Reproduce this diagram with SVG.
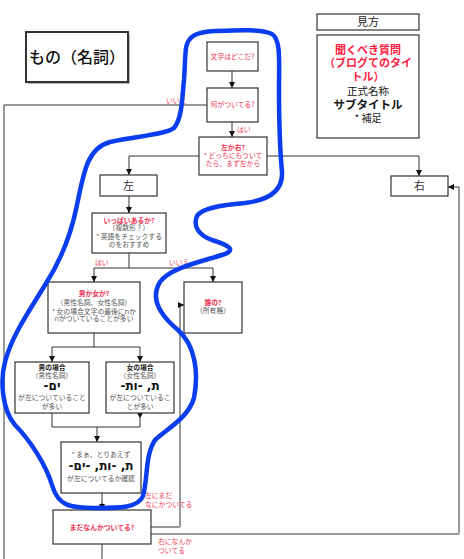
<svg xmlns="http://www.w3.org/2000/svg" width="464" height="559" viewBox="0 0 464 559">
<defs>
<style>
.box{fill:#fff;stroke:#333;stroke-width:1.2}
.shadow{fill:#bbb}
.c{fill:none;stroke:#333;stroke-width:1}
.cg{fill:none;stroke:#999;stroke-width:2}
text{font-family:"Noto Sans CJK JP","Noto Sans",sans-serif}
.t{font-size:6.8px;fill:#555;text-anchor:middle}
.q{font-size:6.8px;fill:#f0304f;text-anchor:middle;font-weight:bold}
.qn{font-size:6.8px;fill:#f0304f;text-anchor:middle}
.lbl{font-size:6.8px;fill:#f0405a}
.he{font-size:12px;font-weight:bold;fill:#111;text-anchor:middle;font-family:"DejaVu Sans","Noto Sans",sans-serif}
.b{font-size:6.8px;fill:#222;text-anchor:middle;font-weight:bold}
</style>
<marker id="ah" viewBox="0 0 10 10" refX="10" refY="5" markerWidth="6" markerHeight="6" orient="auto" markerUnits="userSpaceOnUse">
<path d="M0,0 L10,5 L0,10 z" fill="#111"/>
</marker>
</defs>
<rect width="464" height="559" fill="#fff"/>

<g id="title">
<rect class="shadow" x="28" y="34" width="102" height="50"/>
<rect x="26" y="32" width="102" height="50" fill="#fff" stroke="#333" stroke-width="2"/>
<text x="77" y="63" font-size="16" text-anchor="middle" fill="#111" font-weight="500">もの（名詞）</text>
</g>

<g id="legend">
<rect class="box" x="317" y="14" width="102" height="16"/>
<text x="368" y="26" font-size="11" text-anchor="middle" fill="#222">見方</text>
<rect class="box" x="317" y="35" width="102" height="103"/>
<text x="368" y="54" font-size="11" text-anchor="middle" fill="#ff1a40" font-weight="bold">聞くべき質問</text>
<text x="368" y="67" font-size="11" text-anchor="middle" fill="#ff1a40" font-weight="bold">（ブログてのタイ</text>
<text x="368" y="81" font-size="11" text-anchor="middle" fill="#ff1a40" font-weight="bold">トル）</text>
<text x="368" y="95" font-size="10.5" text-anchor="middle" fill="#111">正式名称</text>
<text x="368" y="109" font-size="11.5" text-anchor="middle" fill="#111" font-weight="bold">サブタイトル</text>
<text x="368" y="122" font-size="10" text-anchor="middle" fill="#222">* 補足</text>
</g>

<g id="connectors">
<path class="c" d="M232,71 V88" marker-end="url(#ah)"/>
<path class="c" d="M232,122 V137" marker-end="url(#ah)"/>
<path class="c" d="M207,105 H4 V559"/>
<path class="c" d="M199,156 H129 V175" marker-end="url(#ah)"/>
<path class="c" d="M267,156 H419 V176" marker-end="url(#ah)"/>
<path class="cg" d="M129,196 V213" />
<path class="c" d="M129,206 V213" marker-end="url(#ah)"/>
<path class="c" d="M129,253 V268 M94,268 H213"/>
<path class="c" d="M94,268 V282" marker-end="url(#ah)"/>
<path class="c" d="M213,268 V282" marker-end="url(#ah)"/>
<path class="c" d="M94,333 V347 M52,347 H140"/>
<path class="c" d="M52,347 V362" marker-end="url(#ah)"/>
<path class="c" d="M140,347 V362" marker-end="url(#ah)"/>
<path class="c" d="M52,413 V427 H140 V413"/>
<path d="M137,413 L143,413 L140,418 z" fill="#111"/>
<path class="c" d="M97,427 V442" marker-end="url(#ah)"/>
<path class="cg" d="M102,493 V510"/>
<path class="c" d="M102,503 V510" marker-end="url(#ah)"/>
<path class="cg" d="M102,544 V559"/>
<path class="c" d="M151,527 H180"/>
<path class="cg" d="M180,527 V305"/>
<path class="c" d="M180,305 H184" marker-end="url(#ah)"/>
<path class="c" d="M151,534 H459"/>
<path class="cg" d="M459,534 V187"/>
<path class="c" d="M459,187 H448" marker-end="url(#ah)"/>
<text class="lbl" x="237" y="132">はい</text>
<text class="lbl" x="166" y="103">いいえ</text>
<text class="lbl" x="95" y="265">はい</text>
<text class="lbl" x="169" y="265">いいえ</text>
<text class="lbl" x="145" y="498">左にまだ</text>
<text class="lbl" x="145" y="507">なにかついてる</text>
<text class="lbl" x="158" y="544">右になんか</text>
<text class="lbl" x="158" y="553">ついてる</text>
</g>

<g id="n_moji">
<rect class="box" x="207" y="42" width="51" height="29"/>
<text class="qn" x="232.5" y="59">文字はどこだ?</text>
</g>
<g id="n_nani">
<rect class="box" x="207" y="88" width="51" height="34"/>
<text class="qn" x="232.5" y="107">何がついてる?</text>
</g>
<g id="n_sayu">
<rect class="box" x="199" y="137" width="68" height="38"/>
<text class="q" x="233" y="150">左か右?</text>
<text class="qn" x="233" y="158">* どっちにもついて</text>
<text class="qn" x="233" y="166">たら、まず左から</text>
</g>
<g id="n_left">
<rect class="box" x="100" y="175" width="57" height="21"/>
<text x="128.5" y="190" font-size="11" text-anchor="middle" fill="#333">左</text>
</g>
<g id="n_right">
<rect class="box" x="391" y="176" width="57" height="20"/>
<text x="419.5" y="190" font-size="11" text-anchor="middle" fill="#333">右</text>
</g>
<g id="n_ippai">
<rect class="box" x="92" y="213" width="74" height="40"/>
<text class="q" x="129" y="223">いっぱいあるか?</text>
<text class="t" x="129" y="230">（複数形？）</text>
<text class="t" x="129" y="238.5">* 英語をチェックする</text>
<text class="t" x="129" y="247">のをおすすめ</text>
</g>
<g id="n_danjo">
<rect class="box" x="48" y="282" width="92" height="51"/>
<text class="q" x="94" y="296">男か女か?</text>
<text class="t" x="94" y="305">（男性名詞、女性名詞）</text>
<text class="t" x="94" y="313.5">* 女の場合文字の最後にתか</text>
<text class="t" x="94" y="321">הがついていることが多い</text>
</g>
<g id="n_dare">
<rect class="box" x="184" y="282" width="58" height="51"/>
<text class="q" x="213" y="305">誰の?</text>
<text class="t" x="213" y="313">（所有格）</text>
</g>
<g id="n_otoko">
<rect class="box" x="15" y="362" width="74" height="51"/>
<text class="b" x="52" y="369.5">男の場合</text>
<text class="t" x="52" y="377.5">（男性名詞）</text>
<text class="he" x="52" y="390">-ים</text>
<text class="t" x="52" y="400">が左についていること</text>
<text class="t" x="52" y="409">が多い</text>
</g>
<g id="n_onna">
<rect class="box" x="106" y="362" width="68" height="51"/>
<text class="b" x="140" y="369.5">女の場合</text>
<text class="t" x="140" y="377.5">（女性名詞）</text>
<text class="he" x="140" y="390">-ת, -ות</text>
<text class="t" x="140" y="400">が左についているこ</text>
<text class="t" x="140" y="409">とが多い</text>
</g>
<g id="n_maa">
<rect class="box" x="61" y="442" width="80" height="51"/>
<text class="t" x="101" y="456.5">* まぁ、とりあえず</text>
<text class="he" x="101" y="470">-ת, -ות, -ים</text>
<text class="t" x="101" y="480.5">が左についてるか確認</text>
</g>
<g id="n_mada">
<rect class="box" x="53" y="510" width="98" height="34"/>
<text class="q" x="102" y="530">まだなんかついてる?</text>
</g>

<g id="highlight">
<path d="M186,48 C188,36 196,32 215,31 C240,30 262,29 272,34 C281,40 279,60 279,90 C279,120 280,150 282,172 C283,190 270,200 245,203 C222,205 202,208 197,216 C193,226 198,235 212,240 C228,245 238,250 222,255 C200,262 170,268 160,282 C150,298 160,315 178,330 C195,345 199,372 194,398 C188,418 168,428 155,440 C145,455 148,478 143,496 C138,508 120,508 95,508 C70,508 58,506 52,485 C46,465 30,440 15,425 C2,410 0,380 5,362 C12,335 30,310 45,285 C58,265 70,240 77,205 C84,170 88,148 110,142 C135,136 165,135 174,128 C182,118 182,100 184,80 C185,65 185,55 186,48 Z" fill="none" stroke="#0a3cf0" stroke-width="4.5" stroke-linejoin="round"/>
</g>
</svg>
